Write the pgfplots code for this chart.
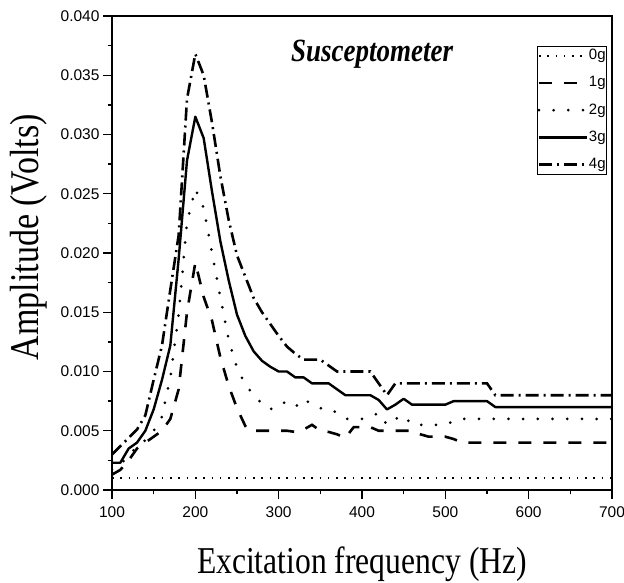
\documentclass[border=0pt]{standalone}
\usepackage{fontspec}
\setmainfont{Liberation Serif}
\newfontfamily\arial{Liberation Sans}
\usepackage{graphicx}
\usepackage{pgfplots}
\pgfplotsset{compat=1.18}
\begin{document}
\begin{tikzpicture}[x=1pt,y=1pt]
\useasboundingbox (-112,-92) rectangle (512,490);
\begin{axis}[
  at={(0,0)}, anchor=south west,
  scale only axis, width=500pt, height=474pt,
  xmin=100, xmax=700, ymin=0, ymax=0.04,
  xtick={100,200,300,400,500,600,700},
  ytick={0,0.005,0.010,0.015,0.020,0.025,0.030,0.035,0.040},
  minor x tick num=1, minor y tick num=1,
  tick align=outside, xtick pos=left, ytick pos=left,
  major tick length=9pt, minor tick length=4pt,
  axis line style={line width=1.3pt},
  every tick/.style={line width=1.3pt, black},
  /pgf/number format/assume math mode=true,
  ticklabel style={font=\arial\fontsize{15.5}{17}\selectfont},
  yticklabel style={/pgf/number format/.cd, fixed, fixed zerofill, precision=3},
  xticklabel style={/pgf/number format/.cd, 1000 sep={}, /tikz/.cd, yshift=-4pt},
  scaled y ticks=false,
  xlabel={\scalebox{1}[1.2]{Excitation frequency (Hz)}},
  ylabel={\scalebox{1}[1.2]{Amplitude (Volts)}},
  xlabel style={font=\fontsize{31.6}{34}\selectfont, at={(axis description cs:0.5,-0.177)}, anchor=base},
  ylabel style={font=\fontsize{34}{36}\selectfont, at={(axis description cs:-0.146,0.533)}, anchor=base},
  legend image code/.code={\draw[#1] (0pt,0pt) -- (48pt,0pt);},
  legend cell align=right,
  legend style={at={(0.99,0.937)}, anchor=north east, draw=black, line width=0.8pt,
    font=\arial\fontsize{15}{17}\selectfont, inner xsep=0.5pt, inner ysep=2pt,
    row sep=12.2pt, nodes={inner sep=0.5pt, text height=11pt, text depth=3pt}},
]
\addplot[black, line width=1.6pt, dash pattern=on 1.6pt off 6.7pt] coordinates {(100,0.001) (700,0.001)};
\addlegendentry{0g}
\addplot[black, line width=2.6pt, dash pattern=on 13pt off 12pt] coordinates {
(100,0.0013) (110,0.0017) (120,0.0025) (130,0.0035) (140,0.0040) (150,0.0045)
(160,0.0050) (170,0.0060) (180,0.0085) (190,0.0150) (200,0.0192) (210,0.0163)
(220,0.0143) (230,0.0112) (240,0.0088) (250,0.0069) (260,0.0054) (265,0.0050)
(270,0.0050) (280,0.0050) (290,0.0050) (300,0.0050) (310,0.0050) (320,0.0049)
(330,0.0051) (340,0.0055) (350,0.0050) (360,0.0049) (370,0.0047) (380,0.0044)
(390,0.0053) (400,0.0053) (410,0.0053) (420,0.0050) (430,0.0050) (440,0.0050)
(450,0.0050) (460,0.0050) (470,0.0047) (480,0.0045) (490,0.0045) (500,0.0045)
(510,0.0043) (520,0.0040) (700,0.0040)};
\addlegendentry{1g}
\addplot[black, line width=3pt, line cap=round, dash pattern=on 0pt off 14.7pt] coordinates {
(100,0.0017) (110,0.0021) (120,0.0030) (130,0.0036) (140,0.0042) (150,0.0050)
(160,0.0062) (170,0.0095) (180,0.0148) (190,0.0226) (200,0.0254) (210,0.0238)
(220,0.0200) (230,0.0163) (240,0.0127) (250,0.0103) (260,0.0089) (270,0.0080)
(280,0.0073) (290,0.0068) (300,0.0073) (310,0.0074) (320,0.0070) (330,0.0077)
(340,0.0072) (350,0.0069) (360,0.0069) (370,0.0065) (380,0.0060) (390,0.0060)
(400,0.0060) (410,0.0062) (420,0.0065) (430,0.0055) (440,0.0060) (450,0.0063)
(460,0.0055) (500,0.0055) (510,0.0058) (520,0.0060) (700,0.0060)};
\addlegendentry{2g}
\addplot[black, line width=2.4pt, line join=round] coordinates {
(100,0.0023) (110,0.0023) (120,0.0035) (130,0.0040) (140,0.0050) (150,0.0068)
(160,0.0093) (170,0.0122) (180,0.0195) (190,0.0278) (200,0.0315) (210,0.0297)
(220,0.0252) (230,0.0210) (240,0.0177) (250,0.0148) (260,0.0130) (270,0.0117)
(280,0.0109) (290,0.0104) (300,0.0100) (310,0.0100) (320,0.0095) (330,0.0095)
(340,0.0090) (350,0.0090) (360,0.0090) (370,0.0085) (380,0.0080) (390,0.0080)
(400,0.0080) (410,0.0080) (420,0.0076) (430,0.0068) (440,0.0072) (450,0.0077)
(460,0.0072) (500,0.0072) (510,0.0075) (550,0.0075) (560,0.0070) (700,0.0070)};
\addlegendentry{3g}
\addplot[black, line width=2.6pt, dash pattern=on 13pt off 5pt on 2pt off 5pt] coordinates {
(100,0.0030) (110,0.0037) (120,0.0044) (130,0.0051) (140,0.0063) (150,0.0093)
(160,0.0122) (170,0.0169) (180,0.0215) (190,0.0330) (200,0.0368) (210,0.0350)
(220,0.0310) (230,0.0265) (240,0.0228) (250,0.0198) (260,0.0180) (270,0.0162)
(280,0.0150) (290,0.0140) (300,0.0130) (310,0.0121) (320,0.0115) (330,0.0110)
(340,0.0110) (350,0.0110) (360,0.0105) (370,0.0100) (380,0.0100) (390,0.0100)
(400,0.0100) (410,0.0100) (420,0.0090) (430,0.0080) (440,0.0090) (550,0.0090)
(560,0.0080) (700,0.0080)};
\addlegendentry{4g}
\node[font=\fontsize{27}{30}\selectfont\bfseries\itshape, anchor=base] at (axis description cs:0.52,0.905) {\scalebox{1}[1.2]{Susceptometer}};
\end{axis}
\end{tikzpicture}
\end{document}
